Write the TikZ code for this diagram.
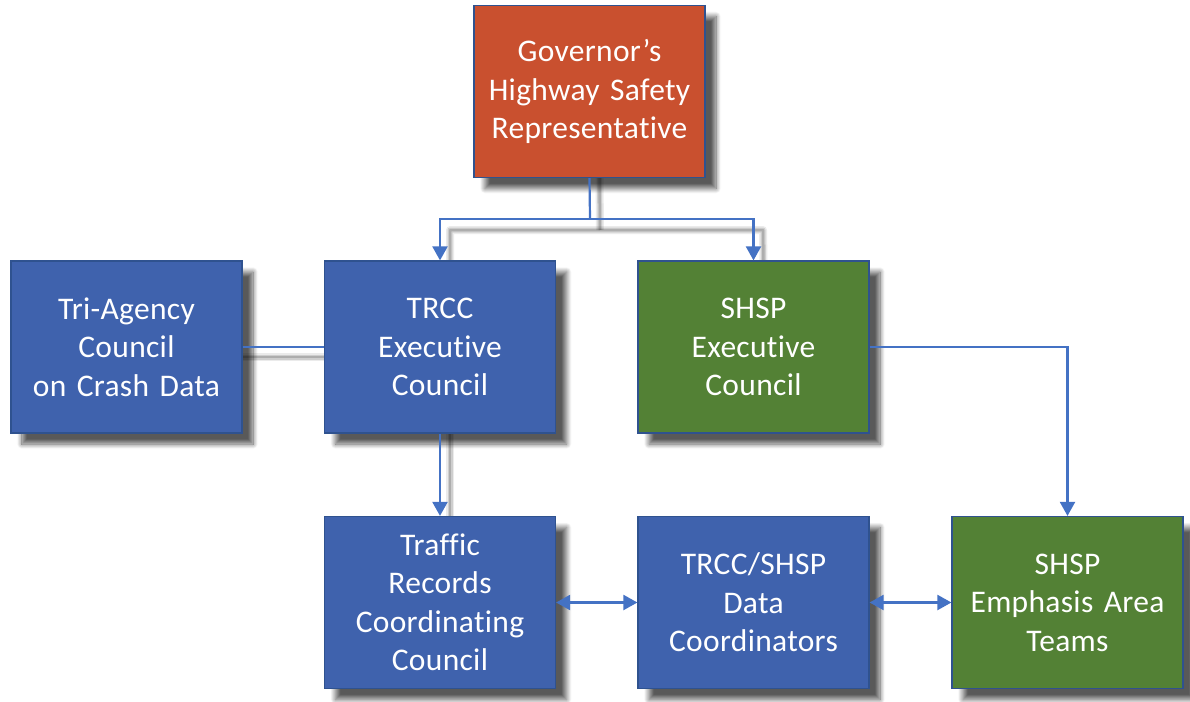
\documentclass[tikz,border=0pt]{standalone}
\usepackage{fontspec}
\setmainfont[Ligatures=NoCommon, WordSpace=0.85, LetterSpace=1]{Carlito}
\usetikzlibrary{arrows.meta,shadows.blur,positioning}
\pgfdeclarelayer{background}
\pgfsetlayers{background,main}
\definecolor{boxblue}{HTML}{3F62AD}
\definecolor{boxgreen}{HTML}{538135}
\definecolor{boxred}{HTML}{C9502F}
\definecolor{edgeblue}{HTML}{2F528F}
\definecolor{linkblue}{HTML}{4472C4}
\tikzset{
  orgbox/.style={draw=edgeblue, line width=1.2bp, minimum width=231bp, minimum height=172bp,
    text width=225bp, align=center, text=white, inner sep=0pt,
    font=\fontsize{31.5bp}{38.5bp}\selectfont,
    blur shadow={shadow xshift=11bp, shadow yshift=-11bp, shadow blur steps=10, shadow blur radius=5bp, shadow blur extra rounding=0bp, shadow opacity=65}},
  link/.style={draw=linkblue, line width=2.2bp},
  tip/.style={-{Triangle[length=14bp,width=15bp]}},
  twotip/.style={{Triangle[length=14bp,width=15bp]}-{Triangle[length=14bp,width=15bp]}},
  lsa/.style={draw=black, line width=8bp, opacity=0.08},
  lsb/.style={draw=black, line width=5bp, opacity=0.12},
  lsc/.style={draw=black, line width=2.5bp, opacity=0.16},
}
\begin{document}
\begin{tikzpicture}[x=1bp,y=-1bp]
\useasboundingbox (0,0) rectangle (1190,702);
\node[orgbox, fill=boxred] (gov) at (589.5,91.5) {Governor’s\\Highway Safety\\Representative};
\node[orgbox, fill=boxblue] (tri) at (126.5,347) {Tri-Agency\\Council\\on Crash Data};
\node[orgbox, fill=boxblue] (trcc) at (440,347) {TRCC\\Executive\\Council};
\node[orgbox, fill=boxgreen] (shsp) at (753.5,347) {SHSP\\Executive\\Council};
\node[orgbox, fill=boxblue] (trc) at (440,602.5) {Traffic\\Records\\Coordinating\\Council};
\node[orgbox, fill=boxblue] (data) at (753.5,602.5) {TRCC/SHSP\\Data\\Coordinators};
\node[orgbox, fill=boxgreen] (emph) at (1067.5,602.5) {SHSP\\Emphasis Area\\Teams};
\coordinate (split) at (590,219);
\coordinate (ssplit) at (600,230);
\coordinate (sl) at (450,230);
\coordinate (sr) at (763,230);
% connector shadows
\begin{pgfonlayer}{background}
\foreach \s in {lsa,lsb,lsc}{
  \draw[\s, line join=round] ([shift={(10,0)}]gov.south) -- (ssplit);
  \draw[\s, line join=round] ([shift={(10,0)}]trcc.north) -- (sl) -- (sr) -- ([shift={(10,0)}]shsp.north);
  \draw[\s] ([shift={(0,10)}]tri.east) -- ([shift={(0,10)}]trcc.west);
  \draw[\s] ([shift={(10,0)}]trcc.south) -- ([shift={(10,0)}]trc.north);
}
\end{pgfonlayer}
% connectors
\draw[link] (gov.south) -- (split);
\draw[link, tip] (split) -| (trcc.north);
\draw[link, tip] (split) -| (shsp.north);
\draw[link] (tri.east) -- (trcc.west);
\draw[link, tip] (trcc.south) -- (trc.north);
\draw[link, tip] (shsp.east) -| (emph.north);
\draw[link, twotip] (trc.east) -- (data.west);
\draw[link, twotip] (data.east) -- (emph.west);
\end{tikzpicture}
\end{document}
